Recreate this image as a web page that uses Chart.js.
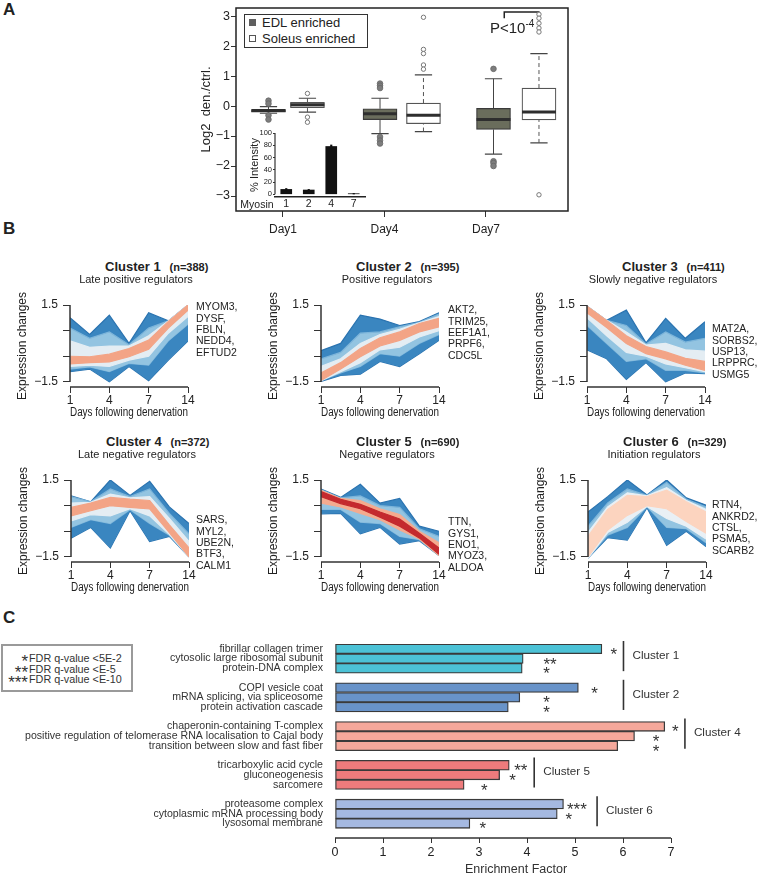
<!DOCTYPE html>
<html>
<head>
<meta charset="utf-8">
<script src="https://cdn.jsdelivr.net/npm/chart.js@4.4.1/dist/chart.umd.min.js"></script>
<style>
  body { margin: 0; background: #fff; }
  #page { position: relative; width: 758px; height: 877px; overflow: hidden; background: #fff;
          font-family: "Liberation Sans", Arial, sans-serif; color: #222; }
  #page canvas { position: absolute; }
  .t { position: absolute; white-space: nowrap; line-height: 1.2; }
</style>
</head>
<body>
<div id="page"></div>
<script>
// ---------- panel A: boxplots (log2 denervated / control) ----------
const dayNames = ['Day1', 'Day4', 'Day7'];
const boxX = [0.857, 1.241, 1.956, 2.384, 3.074, 3.522];   // EDL, Soleus, EDL, Soleus, EDL, Soleus
const boxQ1 = [-0.2, -0.05, -0.45, -0.59, -0.78, -0.46];
const boxMed = [-0.15, 0.04, -0.26, -0.31, -0.45, -0.2];
const boxQ3 = [-0.12, 0.12, -0.09, 0.1, -0.08, 0.6];
const whiskLo = [-0.24, -0.2, -0.92, -0.85, -1.6, -1.23];
const whiskHi = [-0.02, 0.26, 0.26, 1.04, 0.91, 1.75];
const outliers = [
  [0.18, 0.08, -0.31, -0.45],
  [0.42, -0.37, -0.54],
  [0.75, 0.68, 0.6, -1.03, -1.15, -1.25],
  [2.96, 1.89, 1.75, 1.37, 1.23],
  [1.24, -1.84, -1.9, -2.0],
  [3.06, 2.93, 2.76, 2.6, 2.47, -2.96]
];
const pBracketX = [3.18, 3.52];
const pBracketY = [2.93, 3.14];

// inset: myosin isoforms
const myosinTypes = ['1', '2', '4', '7'];
const myosinPct = [8, 7, 78, 1];
const myosinErr = [1.5, 1, 2.5, 0.5];

// ---------- panel B: cluster profiles (days 1, 4, 7, 14 with envelope kinks between) ----------
const xPos = [0, 0.5, 1, 1.5, 2, 2.5, 3];
const dayTicks = ['1', '4', '7', '14'];
const clusterN = [388, 395, 411, 372, 690, 329];
const clusterSub = ['Late positive regulators', 'Positive regulators', 'Slowly negative regulators',
                    'Late negative regulators', 'Negative regulators', 'Initiation regulators'];
const genes1 = ['MYOM3,', 'DYSF,', 'FBLN,', 'NEDD4,', 'EFTUD2'];
const genes2 = ['AKT2,', 'TRIM25,', 'EEF1A1,', 'PRPF6,', 'CDC5L'];
const genes3 = ['MAT2A,', 'SORBS2,', 'USP13,', 'LRPPRC,', 'USMG5'];
const genes4 = ['SARS,', 'MYL2,', 'UBE2N,', 'BTF3,', 'CALM1'];
const genes5 = ['TTN,', 'GYS1,', 'ENO1,', 'MYOZ3,', 'ALDOA'];
const genes6 = ['RTN4,', 'ANKRD2,', 'CTSL,', 'PSMA5,', 'SCARB2'];

const c1OutHi = [1.0, 0.35, 1.1, 0.0, 1.2, 0.88, 1.5];
const c1MidHi = [0.6, 0.2, 0.45, -0.05, 0.6, 0.88, 1.5];
const c1InHi = [0.1, -0.15, -0.1, -0.1, 0.3, 0.88, 1.5];
const c1CoreHi = [-0.5, -0.52, -0.42, -0.2, 0.13, 0.86, 1.5];
const c1CoreLo = [-0.8, -0.75, -0.72, -0.52, -0.23, 0.6, 1.3];
const c1InLo = [-0.9, -0.85, -0.9, -0.65, -0.5, 0.4, 1.05];
const c1MidLo = [-1.0, -0.92, -1.1, -0.78, -0.85, 0.1, 0.75];
const c1OutLo = [-1.1, -1.0, -1.5, -0.9, -1.45, -0.65, 0.1];

const c2OutHi = [-0.28, 0.0, 1.1, 0.95, 0.7, 0.85, 1.2];
const c2MidHi = [-0.6, -0.35, 0.4, 0.45, 0.65, 0.82, 1.15];
const c2InHi = [-0.9, -0.6, 0.0, 0.35, 0.55, 0.8, 1.05];
const c2CoreHi = [-1.15, -0.75, -0.2, 0.22, 0.45, 0.78, 0.98];
const c2CoreLo = [-1.45, -1.0, -0.52, -0.1, 0.12, 0.45, 0.65];
const c2InLo = [-1.45, -1.1, -0.75, -0.25, -0.15, 0.25, 0.5];
const c2MidLo = [-1.45, -1.15, -0.9, -0.4, -0.5, 0.0, 0.35];
const c2OutLo = [-1.48, -1.25, -1.2, -0.7, -0.9, -0.4, 0.12];

const c3OutHi = [1.45, 0.9, 1.3, 0.02, 0.98, 0.2, 0.85];
const c3MidHi = [1.45, 0.9, 0.7, -0.02, 0.45, 0.05, 0.2];
const c3InHi = [1.45, 0.9, 0.45, -0.06, 0.0, -0.25, -0.3];
const c3CoreHi = [1.45, 0.9, 0.3, -0.12, -0.33, -0.58, -0.7];
const c3CoreLo = [1.2, 0.62, 0.0, -0.4, -0.6, -0.85, -1.05];
const c3InLo = [1.0, 0.3, -0.35, -0.5, -0.8, -0.95, -1.1];
const c3MidLo = [0.7, 0.0, -0.7, -0.6, -1.05, -1.05, -1.15];
const c3OutLo = [-0.25, -0.6, -1.4, -0.75, -1.5, -1.15, -1.18];

const c4OutHi = [0.88, 0.65, 1.5, 0.9, 1.45, 0.45, -0.2];
const c4MidHi = [0.85, 0.65, 1.15, 0.85, 1.15, 0.2, -0.6];
const c4InHi = [0.6, 0.63, 0.95, 0.8, 0.85, 0.0, -0.9];
const c4CoreHi = [0.43, 0.6, 0.82, 0.75, 0.7, -0.25, -1.15];
const c4CoreLo = [0.1, 0.3, 0.5, 0.43, 0.37, -0.55, -1.5];
const c4InLo = [-0.1, 0.15, 0.1, 0.38, 0.1, -0.62, -1.5];
const c4MidLo = [-0.35, -0.05, -0.2, 0.34, -0.2, -0.66, -1.5];
const c4OutLo = [-0.77, -0.35, -1.15, 0.3, -0.9, -0.7, -1.5];

const c5OutHi = [1.15, 0.82, 1.33, 0.6, 0.78, -0.3, -0.5];
const c5MidHi = [1.12, 0.8, 0.88, 0.5, 0.43, -0.4, -0.7];
const c5InHi = [1.1, 0.78, 0.7, 0.38, 0.15, -0.5, -0.95];
const c5CoreHi = [1.05, 0.75, 0.55, 0.25, -0.02, -0.58, -1.15];
const c5CoreLo = [0.85, 0.58, 0.38, 0.05, -0.3, -0.76, -1.4];
const c5InLo = [0.6, 0.45, 0.2, -0.05, -0.45, -0.8, -1.45];
const c5MidLo = [0.35, 0.35, -0.15, -0.2, -0.7, -0.83, -1.45];
const c5OutLo = [0.18, 0.2, -0.6, -0.35, -1.0, -0.87, -1.45];

const c6OutHi = [0.25, 0.85, 1.5, 0.92, 1.5, 0.8, 0.52];
const c6MidHi = [-0.3, 0.6, 1.15, 0.9, 1.4, 0.75, 0.45];
const c6InHi = [-0.55, 0.45, 1.0, 0.88, 1.2, 0.7, 0.35];
const c6CoreHi = [-0.7, 0.35, 0.9, 0.85, 1.1, 0.65, 0.25];
const c6CoreLo = [-1.5, -0.45, 0.12, 0.5, 0.38, -0.12, -0.58];
const c6InLo = [-1.55, -0.55, -0.15, 0.47, 0.0, -0.3, -0.8];
const c6MidLo = [-1.55, -0.65, -0.35, 0.45, -0.35, -0.4, -0.95];
const c6OutLo = [-1.55, -0.75, -0.85, 0.42, -1.05, -0.5, -1.1];

// ---------- panel C: GO enrichment ----------
const goTerms = [
  'fibrillar collagen trimer', 'cytosolic large ribosomal subunit', 'protein-DNA complex', '',
  'COPI vesicle coat', 'mRNA splicing, via spliceosome', 'protein activation cascade', '',
  'chaperonin-containing T-complex', 'positive regulation of telomerase RNA localisation to Cajal body', 'transition between slow and fast fiber', '',
  'tricarboxylic acid cycle', 'gluconeogenesis', 'sarcomere', '',
  'proteasome complex', 'cytoplasmic mRNA processing body', 'lysosomal membrane', ''
];
const goEnrich = [5.56, 3.92, 3.9, null, 5.07, 3.85, 3.61, null, 6.87, 6.24, 5.89, null,
                  3.63, 3.43, 2.69, null, 4.76, 4.63, 2.81, null];
const goStars = ['*', '**', '*', '', '*', '*', '*', '', '*', '*', '*', '',
                 '**', '*', '*', '', '***', '*', '*', ''];
const goStarX = [5.81, 4.48, 4.41, null, 5.41, 4.41, 4.41, null, 7.09, 6.69, 6.69, null,
                 3.87, 3.7, 3.11, null, 5.04, 4.87, 3.08, null];
const groupLabels = ['Cluster 1', 'Cluster 2', 'Cluster 4', 'Cluster 5', 'Cluster 6'];
const groupColors = ['#4cc2d6', '#6893c9', '#f5a89b', '#ee7b7c', '#a5b9e1'];
const groupBracketX = [6.01, 6.01, 7.29, 4.15, 5.46];
const legendStars = ['*', '**', '***'];
const legendText = ['FDR q-value &lt;5E-2', 'FDR q-value &lt;E-5', 'FDR q-value &lt;E-10'];

// ---------- setup ----------
const SANS = '"Liberation Sans", Arial, sans-serif';
Chart.defaults.font.family = SANS;
Chart.defaults.color = '#222';
Chart.defaults.animation = false;

const page = document.getElementById('page');

function canvasAt(left, top, w, h) {
  const c = document.createElement('canvas');
  c.width = w; c.height = h;
  c.style.left = left + 'px'; c.style.top = top + 'px';
  page.appendChild(c);
  return c;
}
function txt(html, x, y, css, anchor) {
  const d = document.createElement('div');
  d.className = 't';
  d.style.cssText = css || '';
  d.innerHTML = html;
  d.style.left = x + 'px';
  d.style.top = y + 'px';
  const tx = anchor === 'c' ? '-50%' : anchor === 'r' ? '-100%' : '0';
  d.style.transform = 'translate(' + tx + ',-50%)';
  page.appendChild(d);
  return d;
}

const fixW = w => s => { s.width = w; s.paddingTop = 0; s.paddingBottom = 0; };
const fixH = h => s => { s.height = h; s.paddingLeft = 0; s.paddingRight = 0; };
const setTicks = vals => s => { s.ticks = vals.map(v => ({ value: v })); };
const tickGrid = len => ({ display: true, drawOnChartArea: false, drawTicks: true, tickLength: len,
                           color: '#333', lineWidth: 1, offset: false });
const noGrid = { display: false, drawTicks: false };

// R-like axis line from first to last tick
const rAxes = {
  id: 'rAxes',
  afterDraw(chart, args, opts) {
    const ctx = chart.ctx;
    ctx.save();
    ctx.strokeStyle = '#333';
    ctx.lineWidth = opts.width || 1.5;
    (opts.axes || []).forEach(id => {
      const s = chart.scales[id];
      const t = s.ticks;
      const a = s.getPixelForValue(t[0].value), b = s.getPixelForValue(t[t.length - 1].value);
      ctx.beginPath();
      if (s.isHorizontal()) { ctx.moveTo(a, s.top); ctx.lineTo(b, s.top); }
      else { ctx.moveTo(s.right, a); ctx.lineTo(s.right, b); }
      ctx.stroke();
    });
    ctx.restore();
  }
};
const frame = {
  id: 'frame',
  afterDraw(chart) {
    const { ctx, chartArea: c } = chart;
    ctx.save();
    ctx.strokeStyle = '#222';
    ctx.lineWidth = 1.5;
    ctx.strokeRect(c.left, c.top, c.right - c.left, c.bottom - c.top);
    ctx.restore();
  }
};

// ---------- panel letters ----------
txt('A', 3, 10, 'font-weight:bold;font-size:17px;');
txt('B', 3, 229, 'font-weight:bold;font-size:17px;');
txt('C', 3, 618, 'font-weight:bold;font-size:17px;');

// ---------- panel A ----------
(function () {
  const halfBox = 0.167, halfCap = 0.085;
  const seg = (x0, y0, x1, y1) => [{ x: x0, y: y0 }, { x: x1, y: y1 }, { x: x1, y: null }];
  const edl = [0, 2, 4], sol = [1, 3, 5];
  const boxData = idx => idx.map(i => ({ x: boxX[i], y: [boxQ1[i], boxQ3[i]] }));
  const whisk = idx => idx.flatMap(i => [...seg(boxX[i], whiskLo[i], boxX[i], boxQ1[i]),
                                         ...seg(boxX[i], boxQ3[i], boxX[i], whiskHi[i])]);
  const medians = boxX.flatMap((x, i) => seg(x - halfBox, boxMed[i], x + halfBox, boxMed[i]));
  const caps = boxX.flatMap((x, i) => [...seg(x - halfCap, whiskLo[i], x + halfCap, whiskLo[i]),
                                       ...seg(x - halfCap, whiskHi[i], x + halfCap, whiskHi[i])]);
  const outPts = idx => idx.flatMap(i => outliers[i].map(v => ({ x: boxX[i], y: v })));
  const bracket = [{ x: pBracketX[0], y: pBracketY[0] }, { x: pBracketX[0], y: pBracketY[1] },
                   { x: pBracketX[1], y: pBracketY[1] }, { x: pBracketX[1], y: pBracketY[0] }];
  const line = { type: 'line', pointRadius: 0, fill: false, tension: 0, spanGaps: false };

  new Chart(canvasAt(195, 0, 381, 241), {
    type: 'bar',
    data: {
      datasets: [
        { ...line, data: medians, borderColor: '#2e2e2e', borderWidth: 3, order: 0 },
        { type: 'line', data: outPts(edl), showLine: false, pointRadius: 2.8, pointBackgroundColor: '#7d7d7d',
          pointBorderColor: '#666', pointBorderWidth: 0.8, order: 0 },
        { type: 'line', data: outPts(sol), showLine: false, pointRadius: 2.2, pointBackgroundColor: '#fff',
          pointBorderColor: '#777', pointBorderWidth: 1, order: 0 },
        { data: boxData(edl), backgroundColor: '#6a6d5c', borderColor: '#3a3a3a', borderWidth: 1.2,
          borderSkipped: false, barThickness: 34, grouped: false, order: 1 },
        { data: boxData(sol), backgroundColor: '#fff', borderColor: '#555', borderWidth: 1.2,
          borderSkipped: false, barThickness: 34, grouped: false, order: 1 },
        { ...line, data: whisk(edl), borderColor: '#444', borderWidth: 1, order: 2 },
        { ...line, data: whisk(sol), borderColor: '#555', borderWidth: 1, borderDash: [4, 3], order: 2 },
        { ...line, data: caps, borderColor: '#444', borderWidth: 1.2, order: 2 },
        { ...line, data: bracket, borderColor: '#222', borderWidth: 1.5, order: 2 }
      ]
    },
    options: {
      responsive: false, devicePixelRatio: 1, animation: false,
      layout: { padding: { top: 8, right: 8, left: 0, bottom: 0 } },
      plugins: { legend: { display: false }, tooltip: { enabled: false } },
      scales: {
        x: { type: 'linear', min: 0.537, max: 3.808, offset: false,
             afterBuildTicks: setTicks([1, 2, 3]), afterFit: fixH(30),
             ticks: { callback: v => dayNames[v - 1], font: { size: 12 }, padding: 5, maxRotation: 0 },
             grid: tickGrid(6), border: { display: false } },
        y: { type: 'linear', min: -3.5, max: 3.27,
             afterBuildTicks: setTicks([-3, -2, -1, 0, 1, 2, 3]), afterFit: fixW(41),
             ticks: { callback: v => (v < 0 ? '\u2212' + (-v) : String(v)), font: { size: 12.5 }, padding: 1 },
             grid: tickGrid(5), border: { display: false },
             title: { display: true, text: 'Log2  den./ctrl.', font: { size: 13 }, padding: { top: 4, bottom: 0 } } }
      }
    },
    plugins: [frame]
  });

  // inset
  new Chart(canvasAt(248, 127, 123, 84), {
    type: 'bar',
    data: {
      labels: myosinTypes,
      datasets: [
        { data: myosinPct.map((v, i) => [v - myosinErr[i], v + myosinErr[i]]), backgroundColor: '#111',
          barThickness: 1.5, grouped: false, order: 0 },
        { data: myosinPct, backgroundColor: '#111', barThickness: 11, grouped: false, order: 1 }
      ]
    },
    options: {
      responsive: false, devicePixelRatio: 1, animation: false,
      layout: { padding: { top: 6, right: 6, left: 0, bottom: 0 } },
      plugins: { legend: { display: false }, tooltip: { enabled: false }, rAxes: { axes: ['y'], width: 1.2 } },
      scales: {
        x: { afterFit: fixH(14), grid: noGrid, border: { display: true, color: '#222', width: 1.5 },
             ticks: { font: { size: 10.5 }, padding: 1, maxRotation: 0 } },
        y: { min: -4.4, max: 100, afterBuildTicks: setTicks([0, 20, 40, 60, 80, 100]), afterFit: fixW(27),
             ticks: { font: { size: 7.5 }, padding: 1 }, grid: tickGrid(2), border: { display: false },
             title: { display: true, text: '% Intensity', font: { size: 11 }, padding: { top: 0, bottom: 0 } } }
      }
    },
    plugins: [rAxes]
  });

  txt('Myosin', 257, 204, 'font-size:10.5px;', 'c');

  // legend
  const lg = document.createElement('div');
  lg.style.cssText = 'position:absolute;left:244px;top:14px;width:124px;height:34px;box-sizing:border-box;border:1.5px solid #333;background:#fff;';
  page.appendChild(lg);
  const sq1 = document.createElement('div');
  sq1.style.cssText = 'position:absolute;left:249px;top:19px;width:7px;height:7px;background:#5f5f5f;';
  page.appendChild(sq1);
  const sq2 = document.createElement('div');
  sq2.style.cssText = 'position:absolute;left:249px;top:35px;width:7px;height:7px;box-sizing:border-box;border:1px solid #555;background:#fff;';
  page.appendChild(sq2);
  txt('EDL enriched', 262, 23, 'font-size:13px;');
  txt('Soleus enriched', 262, 39, 'font-size:13px;');
  txt('P&lt;10<sup style="font-size:10px;vertical-align:6px;line-height:0">-4</sup>', 490, 28, 'font-size:15px;');
})();

// ---------- panel B ----------
const clusterBands = [
  [c1OutHi, c1OutLo, c1MidHi, c1MidLo, c1InHi, c1InLo, c1CoreHi, c1CoreLo],
  [c2OutHi, c2OutLo, c2MidHi, c2MidLo, c2InHi, c2InLo, c2CoreHi, c2CoreLo],
  [c3OutHi, c3OutLo, c3MidHi, c3MidLo, c3InHi, c3InLo, c3CoreHi, c3CoreLo],
  [c4OutHi, c4OutLo, c4MidHi, c4MidLo, c4InHi, c4InLo, c4CoreHi, c4CoreLo],
  [c5OutHi, c5OutLo, c5MidHi, c5MidLo, c5InHi, c5InLo, c5CoreHi, c5CoreLo],
  [c6OutHi, c6OutLo, c6MidHi, c6MidLo, c6InHi, c6InLo, c6CoreHi, c6CoreLo]
];
const clusterGenes = [genes1, genes2, genes3, genes4, genes5, genes6];
const outerShade = '#3a86c0';
const midShade = '#93c4e1';
const innerShades = ['#e4edf3', '#e4edf3', '#e4edf3', '#e4edf3', '#f4ab8f', '#e9f0f5'];
const coreShades = ['#f3a486', '#f3a486', '#f3a486', '#f3a486', '#c42a2e', '#fcd4bf'];
const edgeShades = ['#2a73b0', '#7db5da', null, null];

const clusterBox = [[70, 305], [321, 305], [587, 305], [71, 480], [321, 480], [588, 480]];
const geneOffset = [[126, 2], [127, 5], [125, 24], [125, 40], [127, 42], [124, 25]];

clusterBands.forEach((b, k) => {
  const [L, T] = clusterBox[k];
  const shades = [outerShade, midShade, innerShades[k], coreShades[k]];
  const pts = arr => arr.map((v, i) => ({ x: xPos[i], y: v }));
  const datasets = [];
  for (let j = 0; j < 4; j++) {
    const col = shades[j];
    const edge = edgeShades[j] || col;
    datasets.push({ data: pts(b[2 * j]), fill: '+1', backgroundColor: col, borderColor: edge, borderWidth: 1.2,
                    pointRadius: 0, tension: 0, order: 3 - j });
    datasets.push({ data: pts(b[2 * j + 1]), fill: false, borderColor: edge, borderWidth: 1.2,
                    pointRadius: 0, tension: 0, order: 3 - j });
  }
  new Chart(canvasAt(L - 59, T - 22, 187, 137), {
    type: 'line',
    data: { datasets },
    options: {
      responsive: false, devicePixelRatio: 1, animation: false,
      layout: { padding: { top: 22, right: 10, left: 0, bottom: 0 } },
      plugins: { legend: { display: false }, tooltip: { enabled: false }, rAxes: { axes: ['x', 'y'] } },
      scales: {
        x: { type: 'linear', min: 0, max: 3, afterBuildTicks: setTicks([0, 1, 2, 3]), afterFit: fixH(33),
             ticks: { callback: v => dayTicks[v], font: { size: 12 }, padding: 0, maxRotation: 0 },
             grid: tickGrid(6), border: { display: false },
             title: { display: true, text: 'Days following denervation', font: { size: 12 }, padding: 0 } },
        y: { type: 'linear', min: -1.7, max: 1.5, afterBuildTicks: setTicks([-1.5, -1, -0.5, 0, 0.5, 1, 1.5]),
             afterFit: fixW(59),
             ticks: { callback: v => (v === 1.5 ? '1.5' : v === 0 ? '0.0' : v === -1.5 ? '\u22121.5' : ''),
                      font: { size: 12 }, padding: 5 },
             grid: tickGrid(7), border: { display: false },
             title: { display: true, text: 'Expression changes', font: { size: 12 }, padding: { top: 4, bottom: 0 } } }
      }
    },
    plugins: [rAxes]
  });

  const titleY = T - 39, subY = T - 25;
  txt('<b style="font-size:13px">Cluster ' + (k + 1) + '</b>&nbsp;&nbsp;<b style="font-size:11px">(n=' +
      clusterN[k] + ')</b>', L + 35, titleY, '');
  txt(clusterSub[k], L + 66, subY, 'font-size:11px;', 'c');
  const g = document.createElement('div');
  g.className = 't';
  g.style.cssText = 'font-size:10.5px;line-height:11.3px;left:' + (L + geneOffset[k][0]) + 'px;top:' +
                    (T + geneOffset[k][1] - 5.65) + 'px;';
  g.innerHTML = clusterGenes[k].join('<br>');
  page.appendChild(g);
});

// ---------- panel C ----------
(function () {
  const goAnnot = {
    id: 'goAnnot',
    afterDatasetsDraw(chart) {
      const { ctx, scales: { x, y } } = chart;
      ctx.save();
      ctx.fillStyle = '#333';
      ctx.font = '17px ' + SANS;
      ctx.textAlign = 'center';
      ctx.textBaseline = 'alphabetic';
      goStars.forEach((s, i) => {
        if (s) ctx.fillText(s, x.getPixelForValue(goStarX[i]), y.getPixelForValue(i) + 11);
      });
      const rowH = y.getPixelForValue(1) - y.getPixelForValue(0);
      ctx.strokeStyle = '#333';
      ctx.lineWidth = 1.6;
      ctx.font = '11.7px ' + SANS;
      ctx.textAlign = 'left';
      ctx.textBaseline = 'middle';
      groupLabels.forEach((lab, k) => {
        const first = k * 4;
        const bx = x.getPixelForValue(groupBracketX[k]);
        const y0 = y.getPixelForValue(first) - rowH * 0.5 - 3;
        const y1 = y.getPixelForValue(first + 2) + rowH * 0.3;
        ctx.beginPath(); ctx.moveTo(bx, y0); ctx.lineTo(bx, y1); ctx.stroke();
        ctx.fillText(lab, bx + 9, y.getPixelForValue(first + 1) - 3);
      });
      ctx.restore();
    }
  };

  new Chart(canvasAt(0, 634, 758, 229), {
    type: 'bar',
    data: {
      labels: goTerms,
      datasets: [{
        data: goEnrich,
        backgroundColor: goEnrich.map((v, i) => groupColors[Math.floor(i / 4)]),
        borderColor: '#3a3a3a', borderWidth: 1.3, borderSkipped: false,
        barPercentage: 1, categoryPercentage: 1
      }]
    },
    options: {
      indexAxis: 'y',
      responsive: false, devicePixelRatio: 1, animation: false,
      layout: { padding: { top: 10, right: 87, left: 0, bottom: 0 } },
      plugins: { legend: { display: false }, tooltip: { enabled: false }, rAxes: { axes: ['x'] } },
      scales: {
        x: { type: 'linear', min: 0, max: 7, afterBuildTicks: setTicks([0, 1, 2, 3, 4, 5, 6, 7]), afterFit: fixH(25),
             ticks: { font: { size: 12.5 }, padding: 2, maxRotation: 0 },
             grid: tickGrid(5), border: { display: false } },
        y: { afterFit: fixW(335), grid: noGrid, border: { display: false },
             ticks: { autoSkip: false, font: { size: 10.6 }, color: '#333', padding: 12 } }
      }
    },
    plugins: [rAxes, goAnnot]
  });

  txt('Enrichment Factor', 516, 869, 'font-size:12.5px;color:#333;', 'c');

  const box = document.createElement('div');
  box.style.cssText = 'position:absolute;left:1px;top:644px;width:132px;height:48px;box-sizing:border-box;border:2px solid #9a9a9a;background:#fff;';
  page.appendChild(box);
  const ly = [658, 668.5, 679];
  legendStars.forEach((s, i) => {
    txt('<span style="position:relative;top:4px">' + s + '</span>', 28, ly[i], 'font-size:17px;color:#333;line-height:10px;', 'r');
    txt(legendText[i], 29, ly[i], 'font-size:10.8px;color:#333;');
  });
})();
</script>
</body>
</html>
